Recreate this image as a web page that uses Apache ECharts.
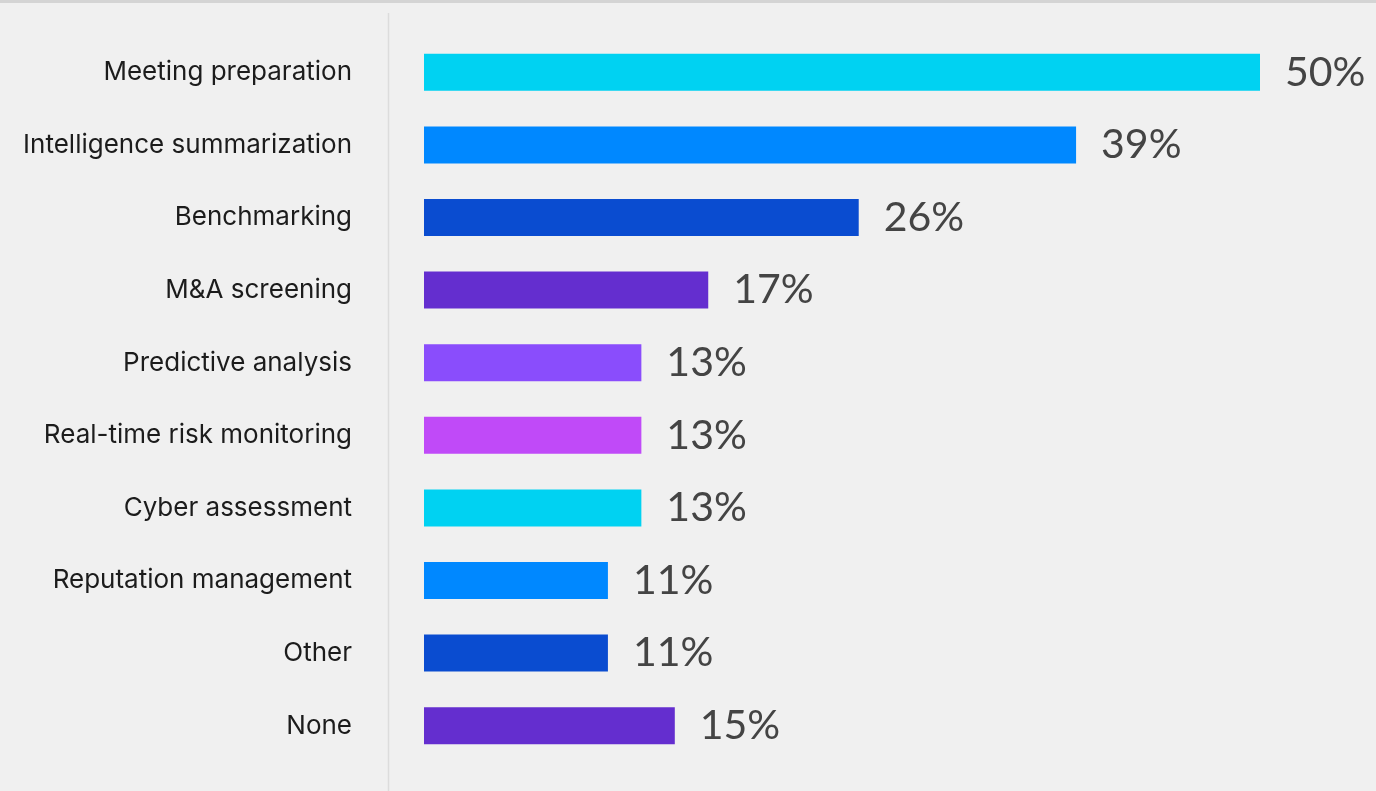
<!DOCTYPE html>
<html><head><meta charset="utf-8">
<script src="https://cdn.jsdelivr.net/npm/echarts@6/dist/echarts.min.js"></script>
<style>html,body{margin:0;padding:0;background:#f0f0f0;}#c{width:1376px;height:791px;}</style>
</head><body><div id="c"></div>
<script>
const categories = ["Meeting preparation","Intelligence summarization","Benchmarking","M&A screening","Predictive analysis","Real-time risk monitoring","Cyber assessment","Reputation management","Other","None"];
const values = [50,39,26,17,13,13,13,11,11,15];
const barColors = ["#00d2f2","#0088ff","#0a4cd0","#642ecf","#8a4dfc","#c04af8","#00d2f2","#0088ff","#0a4cd0","#642ecf"];

const chart = echarts.init(document.getElementById('c'), null, {renderer:'canvas'});
chart.setOption({
  backgroundColor:'#f0f0f0',
  animation:false,
  grid:{left:424, right:1376-424-836, top:36, bottom:29},
  xAxis:{type:'value', min:0, max:50, show:false},
  yAxis:{type:'category', inverse:true, data:categories,
    axisLine:{show:false}, axisTick:{show:false}, splitLine:{show:false},
    axisLabel:{margin:72, color:'#1c1c1c', fontSize:26, fontFamily:'Inter, sans-serif', fontWeight:400, padding:[4,0,0,0]}},
  graphic:[
    {type:'rect', shape:{x:0,y:0,width:1376,height:3}, style:{fill:'#d4d4d4'}, silent:true},
    {type:'line', shape:{x1:388.5,y1:13,x2:388.5,y2:791}, style:{stroke:'#dcdcdc', lineWidth:1.5}, silent:true}
  ],
  series:[{
    type:'bar', barWidth:37,
    data: values.map((v,i)=>({value:v, itemStyle:{color:barColors[i]}})),
    label:{show:true, position:'right', distance:25, formatter:'{c}%', color:'#444', fontSize:41, fontFamily:'Lato, sans-serif', padding:[4,0,0,0]}
  }]
});
</script></body></html>
